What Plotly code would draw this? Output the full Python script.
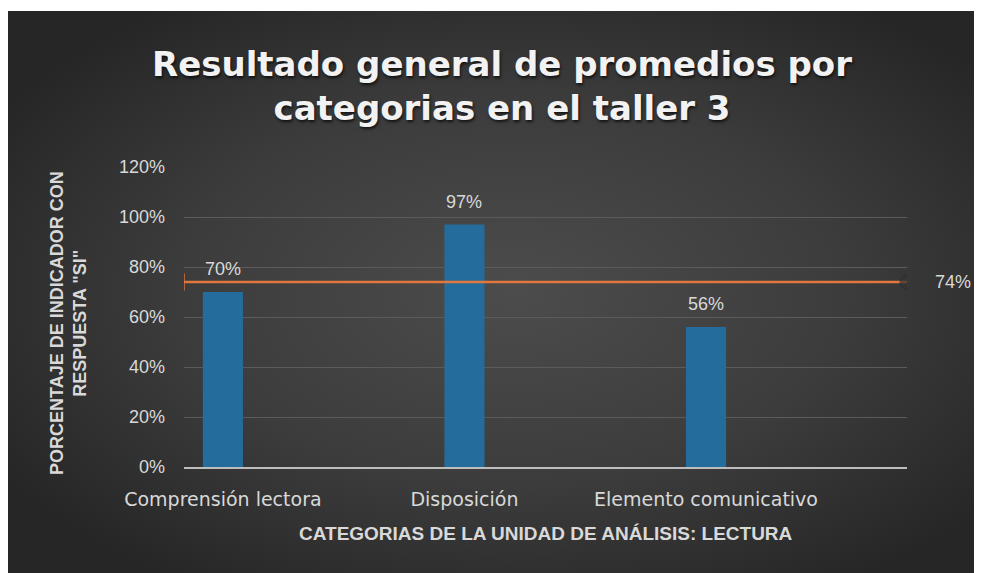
import base64
import plotly.graph_objects as go

# ---- data ----
categories = ["Comprensión lectora", "Disposición", "Elemento comunicativo"]
values = [0.70, 0.97, 0.56]
average_value = 0.74
average_span = [0, 1]
y_ticks = [0, 0.2, 0.4, 0.6, 0.8, 1.0, 1.2]
y_tick_labels = ["0%", "20%", "40%", "60%", "80%", "100%", "120%"]

title_text = "Resultado general de promedios por<br>categorias en el taller 3"
y_title = "PORCENTAJE DE INDICADOR CON<br>RESPUESTA \"SI\""
x_title = "CATEGORIAS DE LA UNIDAD DE ANÁLISIS: LECTURA"

# figure sits at (8, 8) in the page because of the default body margin
OFF = 8
W, H = 974, 565
L, R, T = 184 - OFF, 75, 167 - OFF
B = H - (467 - OFF)
pw, ph = W - L - R, H - T - B
BOT = H - B  # plot bottom in figure px

# ---- background (radial gradient) ----
bw, bh = W, H - 3
svg = (
    f'<svg xmlns="http://www.w3.org/2000/svg" width="{bw}" height="{bh}" viewBox="0 0 {bw} {bh}" preserveAspectRatio="none">'
    '<defs><radialGradient id="g" cx="0.52" cy="0.5" r="0.62" gradientUnits="objectBoundingBox">'
    '<stop offset="0" stop-color="#4c4c4c"/><stop offset="0.55" stop-color="#3c3c3c"/>'
    '<stop offset="1" stop-color="#262626"/></radialGradient></defs>'
    f'<rect width="{bw}" height="{bh}" fill="url(#g)"/></svg>'
)
bg_src = "data:image/svg+xml;base64," + base64.b64encode(svg.encode()).decode()

label_color = "#d9d9d9"

fig = go.Figure()
fig.add_trace(go.Bar(
    x=categories, y=values,
    width=0.166,
    marker=dict(color="#246c9b", line=dict(width=0)),
    hoverinfo="x+y",
    showlegend=False,
))
fig.add_trace(go.Scatter(
    x=average_span, y=[average_value] * len(average_span),
    xaxis="x2", mode="lines+markers",
    line=dict(color="#e0773f", width=2.5),
    marker=dict(symbol=["line-ns", "circle"], size=[12, 14],
                color=["#e0773f", "#333333"],
                line=dict(color=["#e0773f", "#2a2a2a"], width=[2, 1])),
    showlegend=False,
))

annotations = []
for c, v in zip(categories, values):
    annotations.append(dict(
        x=c, y=v, xref="x", yref="y", text=f"{round(v*100)}%", showarrow=False,
        yanchor="middle", yshift=23,
        font=dict(family="Liberation Sans, Arial", size=18, color=label_color),
    ))
annotations.append(dict(
    x=average_span[-1], y=average_value, xref="x2", yref="y",
    text=f"{round(average_value*100)}%", showarrow=False,
    xanchor="left", yanchor="middle", xshift=26,
    font=dict(family="Liberation Sans, Arial", size=18, color=label_color),
))
annotations.append(dict(
    x=(68 - OFF - L) / pw, y=(467 - 323) / ph, xref="paper", yref="paper",
    text=y_title, showarrow=False, textangle=-90,
    xanchor="center", yanchor="middle",
    font=dict(family="Liberation Sans, Arial", size=18, color=label_color, weight="bold"),
))
annotations.append(dict(
    x=0.5, y=(467 - 533) / ph, xref="paper", yref="paper",
    text=x_title, showarrow=False, xanchor="center", yanchor="middle",
    font=dict(family="Liberation Sans, Arial", size=19, color=label_color, weight="bold"),
))

fig.update_layout(
    width=W, height=H,
    margin=dict(l=L, r=R, t=T, b=B, autoexpand=False),
    paper_bgcolor="#272727",
    plot_bgcolor="rgba(0,0,0,0)",
    title=dict(
        text=title_text, x=(502 - OFF) / W, xref="container", xanchor="center",
        y=1 - (76 - OFF) / H, yref="container", yanchor="middle",
        font=dict(family="DejaVu Sans", size=34, color="#f2f2f2", weight="bold",
                  shadow="1px 2px 3px rgba(0,0,0,0.7)"),
    ),
    images=[dict(
        source=bg_src, xref="paper", yref="paper",
        x=-L / pw, y=(BOT - 3) / ph,
        sizex=W / pw, sizey=(H - 3) / ph,
        sizing="stretch", xanchor="left", yanchor="top", layer="below",
    )],
    shapes=[dict(
        type="rect", xref="paper", yref="paper", layer="below",
        x0=-L / pw, x1=(W - L) / pw, y0=(BOT - 3) / ph, y1=BOT / ph,
        fillcolor="white", line=dict(width=0),
    )],
    xaxis=dict(
        type="category", range=[-0.161, 2.832],
        showgrid=False, zeroline=False,
        showline=True, linecolor="#bdbdbd", linewidth=2,
        ticks="", ticklabelstandoff=14,
        tickfont=dict(family="DejaVu Sans", size=19, color=label_color),
    ),
    xaxis2=dict(
        overlaying="x", range=[0, 1], visible=False, side="bottom",
    ),
    yaxis=dict(
        range=[0, 1.2], tickvals=y_ticks, ticktext=y_tick_labels,
        showgrid=True, gridcolor="#5b5b5b", gridwidth=1,
        zeroline=False, showline=False, ticks="", ticklabelstandoff=18,
        tickfont=dict(family="Liberation Sans, Arial", size=18, color=label_color),
    ),
    annotations=annotations,
    bargap=0.8,
)

fig.write_html("out.html")
